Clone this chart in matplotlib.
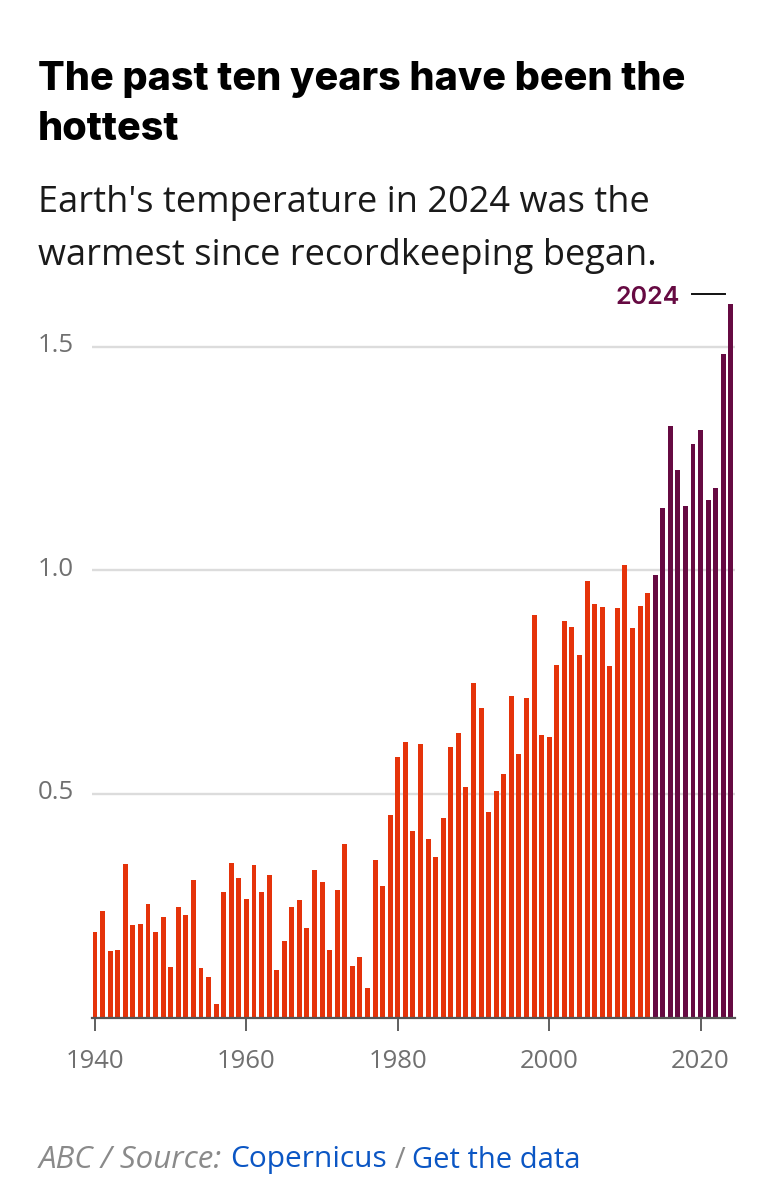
#!/usr/bin/env python3
"""Global temperature anomaly by year, bar chart."""

import matplotlib
matplotlib.use("Agg")
import matplotlib.pyplot as plt

WIDTH, HEIGHT = 774, 1200

years = list(range(1940, 2025))
anomalies = [
    0.192, 0.239, 0.148, 0.152, 0.344, 0.206, 0.209, 0.253, 0.192, 0.225,
    0.114, 0.247, 0.230, 0.307, 0.110, 0.091, 0.031, 0.281, 0.346, 0.312,
    0.266, 0.341, 0.281, 0.318, 0.107, 0.171, 0.247, 0.262, 0.200, 0.329,
    0.302, 0.151, 0.285, 0.387, 0.115, 0.136, 0.067, 0.352, 0.295, 0.452,
    0.582, 0.617, 0.417, 0.611, 0.399, 0.358, 0.446, 0.604, 0.635, 0.515,
    0.748, 0.692, 0.460, 0.507, 0.545, 0.718, 0.589, 0.714, 0.899, 0.631,
    0.627, 0.789, 0.886, 0.873, 0.810, 0.975, 0.925, 0.917, 0.785, 0.916,
    1.011, 0.870, 0.920, 0.949, 0.990, 1.138, 1.322, 1.225, 1.144, 1.282,
    1.313, 1.156, 1.183, 1.484, 1.596,
]
x_ticks = [1940, 1960, 1980, 2000, 2020]
y_ticks = [0.5, 1.0, 1.5]
y_tick_labels = ["0.5", "1.0", "1.5"]
first_hot_year = 2014

RED = "#e5330a"
PURPLE = "#660a42"
GREY = "#707070"


def fx(px):
    return px / WIDTH


def fy(py):
    return 1 - py / HEIGHT


fig = plt.figure(figsize=(WIDTH / 100, HEIGHT / 100), dpi=100)
ax = fig.add_axes([fx(92), fy(1017.5), fx(735) - fx(92), (1017.5 - 290) / HEIGHT])

colors = [PURPLE if y >= first_hot_year else RED for y in years]
ax.bar(years, anomalies, width=0.65, color=colors, linewidth=0, zorder=2)

ax.set_xlim(1940 - 3 / 7.57, 1940 + (735 - 95) / 7.57)
ax.set_ylim(0, (1017.5 - 290) / 447.3)

for tick in y_ticks:
    ax.axhline(tick, color="#dcdcdc", linewidth=1.7, zorder=1)

for side in ("top", "right", "left"):
    ax.spines[side].set_visible(False)
ax.spines["bottom"].set_color("#555555")
ax.spines["bottom"].set_linewidth(1.6)
ax.spines["bottom"].set_zorder(3)

ax.set_xticks(x_ticks)
ax.set_xticklabels([str(y) for y in x_ticks])
ax.set_yticks([])
ax.tick_params(axis="x", length=9, width=1.2, color="#444444", pad=14,
               labelsize=18.5, labelcolor=GREY)
for lab in ax.get_xticklabels():
    lab.set_family("Open Sans")

# y labels sit out at the left margin
for tick, label in zip(y_ticks, y_tick_labels):
    ax.annotate(label, (0, tick), xycoords=("figure fraction", "data"),
                xytext=(38, 1), textcoords="offset pixels", ha="left", va="center",
                fontsize=18.5, color=GREY, family="Open Sans",
                annotation_clip=False)

# 2024 callout
fig.text(fx(680), fy(297), "2024", ha="right", va="center", fontsize=18,
         fontweight="semibold", color=PURPLE, family="Inter")
fig.add_artist(plt.Line2D([fx(692), fx(725)], [fy(294), fy(294)], color="#111111", linewidth=1.4))

# heading
for py, line in [(80, "The past ten years have been the"), (129, "hottest")]:
    fig.text(fx(38), fy(py), line, ha="left", va="center", fontsize=28.5,
             fontweight="heavy", color="#000000", family="Inter")
for py, line in [(203, "Earth's temperature in 2024 was the"),
                 (256, "warmest since recordkeeping began.")]:
    fig.text(fx(38), fy(py), line, ha="left", va="center", fontsize=26,
             color="#1a1a1a", family="Open Sans")

# footer, pieces placed one after the other
footer = [("ABC / Source:", "#8a8a8a", "italic", 39, 22.5),
          ("Copernicus", "#0b56c4", "normal", 230, 21.5),
          ("/", "#8a8a8a", "normal", 395, 21),
          ("Get the data", "#0b56c4", "normal", 412, 21)]
for text, color, style, px, size in footer:
    fig.text(fx(px), fy(1160), text, ha="left", va="center", fontsize=size,
             color=color, style=style, family="Open Sans")

fig.savefig("out.png", dpi=100)
